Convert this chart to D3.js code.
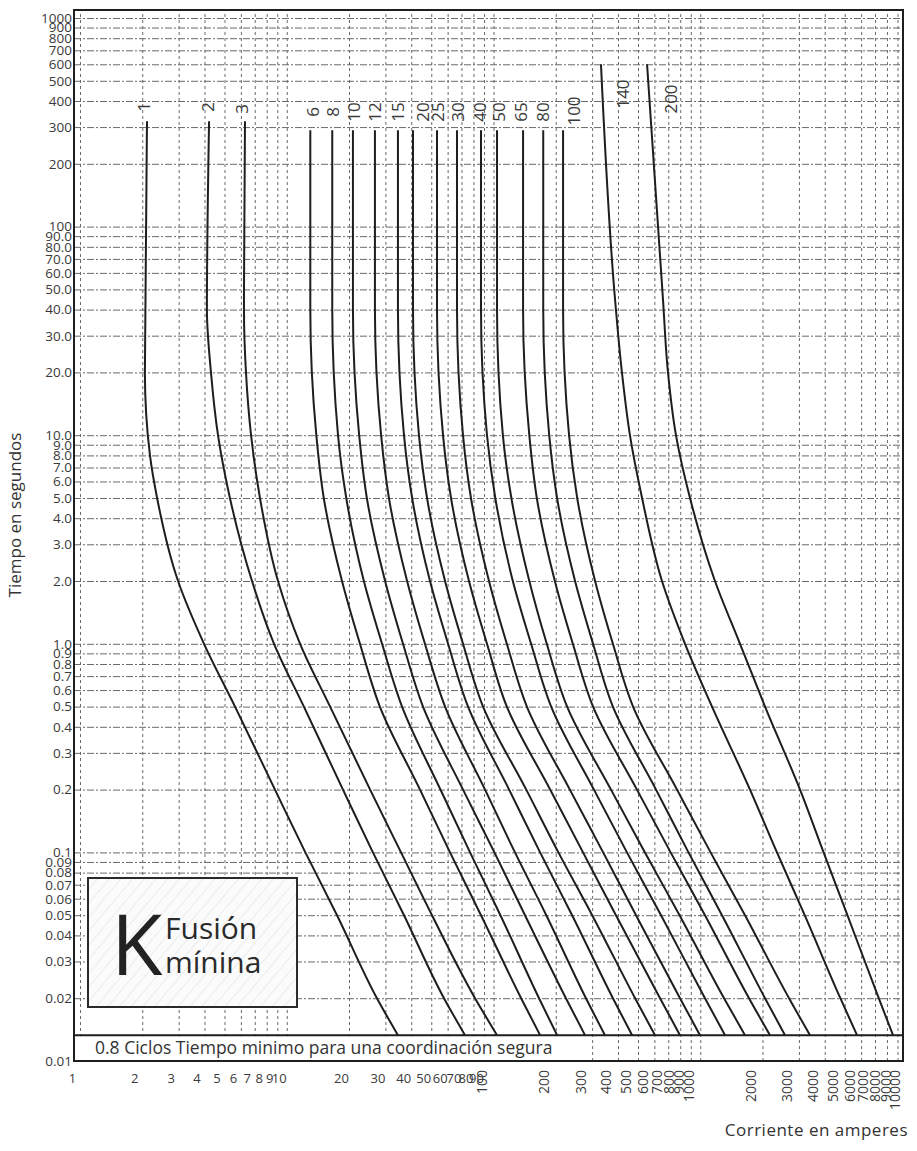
<!DOCTYPE html>
<html>
<head>
<meta charset="utf-8">
<script src="https://cdn.jsdelivr.net/npm/d3@7"></script>
<style>
  body { margin: 0; background: #fff; }
  text { font-family: "Open Sans", "Noto Sans", sans-serif; }
</style>
</head>
<body>
<svg id="chart" width="917" height="1151"></svg>
<script>
// Fuse link ratings (type K) and their minimum melting curves: [current A, time s]
const ratings = ["1", "2", "3", "6", "8", "10", "12", "15", "20", "25", "30", "40", "50", "65", "80", "100", "140", "200"];

const melt1 = [[2.11, 320], [2.06, 20], [2.18, 8], [2.36, 5], [2.98, 2], [3.98, 1], [5.62, 0.5], [8.77, 0.2], [12.3, 0.1], [17.5, 0.05], [27.3, 0.02], [34.5, 0.0133]];
const melt2 = [[4.21, 320], [4.11, 40], [4.30, 20], [4.65, 10], [5.31, 5], [6.79, 2], [8.68, 1], [12.1, 0.5], [18.7, 0.2], [26.1, 0.1], [36.9, 0.05], [57.6, 0.02], [72.8, 0.0133]];
const melt3 = [[6.28, 320], [6.21, 40], [6.35, 20], [6.72, 10], [7.42, 5], [9.07, 2], [11.6, 1], [16.2, 0.5], [25.3, 0.2], [35.7, 0.1], [50.4, 0.05], [81.4, 0.02], [104, 0.0133]];
const melt6 = [[13.0, 290], [13.0, 40], [13.9, 10], [15.1, 5], [18.5, 2], [22.6, 1], [28.2, 0.5], [44.1, 0.2], [61.6, 0.1], [87.0, 0.05], [136, 0.02], [168, 0.0133]];
const melt8 = [[16.6, 290], [16.6, 40], [17.7, 10], [19.4, 5], [23.6, 2], [28.9, 1], [36.1, 0.5], [55.4, 0.2], [77.0, 0.1], [108, 0.05], [166, 0.02], [203, 0.0133]];
const melt10 = [[20.9, 290], [20.9, 40], [22.4, 10], [24.4, 5], [29.9, 2], [36.5, 1], [45.6, 0.5], [71.2, 0.2], [101, 0.1], [142, 0.05], [224, 0.02], [277, 0.0133]];
const melt12 = [[26.7, 290], [26.7, 40], [28.6, 10], [31.2, 5], [38.2, 2], [46.6, 1], [58.3, 0.5], [91.0, 0.2], [127, 0.1], [180, 0.05], [280, 0.02], [346, 0.0133]];
const melt15 = [[34.5, 290], [34.5, 40], [36.9, 10], [40.4, 5], [49.3, 2], [60.3, 1], [75.3, 0.5], [119, 0.2], [168, 0.1], [240, 0.05], [378, 0.02], [468, 0.0133]];
const melt20 = [[40.8, 290], [40.8, 40], [43.6, 10], [47.7, 5], [58.3, 2], [71.2, 1], [89.0, 0.5], [144, 0.2], [206, 0.1], [300, 0.05], [484, 0.02], [604, 0.0133]];
const melt25 = [[53.3, 290], [53.3, 40], [57.0, 10], [62.3, 5], [76.1, 2], [93.0, 1], [116, 0.5], [188, 0.2], [271, 0.1], [391, 0.05], [639, 0.02], [798, 0.0133]];
const melt30 = [[66.6, 290], [66.6, 40], [71.2, 10], [77.8, 5], [95.1, 2], [116, 1], [145, 0.5], [234, 0.2], [339, 0.1], [489, 0.05], [798, 0.02], [997, 0.0133]];
const melt40 = [[87.0, 290], [87.0, 40], [93.0, 10], [102, 5], [124, 2], [152, 1], [190, 0.5], [306, 0.2], [442, 0.1], [646, 0.05], [1054, 0.02], [1317, 0.0133]];
const melt50 = [[104, 290], [104, 40], [111, 10], [122, 5], [149, 2], [181, 1], [227, 0.5], [370, 0.2], [540, 0.1], [794, 0.05], [1303, 0.02], [1646, 0.0133]];
const melt65 = [[139, 290], [139, 40], [149, 10], [162, 5], [198, 2], [242, 1], [303, 0.5], [494, 0.2], [719, 0.1], [1054, 0.05], [1721, 0.02], [2174, 0.0133]];
const melt80 = [[174, 290], [174, 40], [186, 10], [203, 5], [248, 2], [303, 1], [378, 0.5], [611, 0.2], [877, 0.1], [1274, 0.05], [2057, 0.02], [2570, 0.0133]];
const melt100 = [[217, 290], [217, 40], [232, 10], [254, 5], [310, 2], [378, 1], [473, 0.5], [772, 0.2], [1122, 0.1], [1646, 0.05], [2688, 0.02], [3395, 0.0133]];
const melt140 = [[331, 600], [387, 45], [418, 20], [457, 10], [523, 5], [653, 2], [844, 1], [1140, 0.5], [1740, 0.2], [2350, 0.1], [3200, 0.05], [4760, 0.02], [5731, 0.0133]];
const melt200 = [[553, 600], [660, 45], [698, 20], [763, 10], [892, 5], [1178, 2], [1557, 1], [2057, 0.5], [3038, 0.2], [3950, 0.1], [5150, 0.05], [7300, 0.02], [8557, 0.0133]];

const meltCurves = [melt1, melt2, melt3, melt6, melt8, melt10, melt12, melt15, melt20, melt25, melt30, melt40, melt50, melt65, melt80, melt100, melt140, melt200];

// Minimum time for safe coordination: 0.8 cycles at 60 Hz
const coordTime = 0.0133;

// Axis ticks
const xTickValues = [1, 2, 3, 4, 5, 6, 7, 8, 9, 10, 20, 30, 40, 50, 60, 70, 80, 90,
  100, 200, 300, 400, 500, 600, 700, 800, 900, 1000, 2000, 3000, 4000, 5000, 6000, 7000, 8000, 9000, 10000];
const xTickLabels = ["1", "2", "3", "4", "5", "6", "7", "8", "9", "10", "20", "30", "40", "50", "60", "70", "80", "90",
  "100", "200", "300", "400", "500", "600", "700", "800", "900", "1000", "2000", "3000", "4000", "5000", "6000", "7000", "8000", "9000", "10000"];
const yTickValues = [1000, 900, 800, 700, 600, 500, 400, 300, 200, 100, 90, 80, 70, 60, 50, 40, 30, 20,
  10, 9, 8, 7, 6, 5, 4, 3, 2, 1, 0.9, 0.8, 0.7, 0.6, 0.5, 0.4, 0.3, 0.2,
  0.1, 0.09, 0.08, 0.07, 0.06, 0.05, 0.04, 0.03, 0.02, 0.01];
const yTickLabels = ["1000", "900", "800", "700", "600", "500", "400", "300", "200", "100", "90.0", "80.0", "70.0", "60.0", "50.0", "40.0", "30.0", "20.0",
  "10.0", "9.0", "8.0", "7.0", "6.0", "5.0", "4.0", "3.0", "2.0", "1.0", "0.9", "0.8", "0.7", "0.6", "0.5", "0.4", "0.3", "0.2",
  "0.1", "0.09", "0.08", "0.07", "0.06", "0.05", "0.04", "0.03", "0.02", "0.01"];

const xTitle = "Corriente en amperes";
const yTitle = "Tiempo en segundos";
const coordNote = "0.8 Ciclos Tiempo minimo para una coordinación segura";

// ---------------------------------------------------------------------------
const svg = d3.select("#chart");

const x = d3.scaleLog().domain([1, 10000]).range([80, 907]);
const y = d3.scaleLog().domain([0.01, 1000]).range([1061, 18]);

const frame = { left: 74, right: 903, top: 10, bottom: 1061 };
const ink = "#1e1e1e";
const gridInk = "#6a6a6a";

svg.append("rect").attr("width", 917).attr("height", 1151).attr("fill", "#fff");

const defs = svg.append("defs");
defs.append("pattern")
  .attr("id", "hatch").attr("patternUnits", "userSpaceOnUse")
  .attr("width", 9).attr("height", 9)
  .attr("patternTransform", "rotate(40)")
  .append("line").attr("x1", 0).attr("y1", 0).attr("x2", 0).attr("y2", 9)
  .attr("stroke", "#dcdcdc").attr("stroke-width", 1);
defs.append("clipPath").attr("id", "plotClip")
  .append("rect").attr("x", frame.left).attr("y", frame.top)
  .attr("width", frame.right - frame.left).attr("height", frame.bottom - frame.top);

// Grid layers sit inside an untransformed clipped group
const gridLayer = svg.append("g").attr("clip-path", "url(#plotClip)");

// Horizontal grid (dash-dot)
const hGrid = gridLayer.append("g")
  .attr("transform", `translate(${frame.left},0)`)
  .call(d3.axisLeft(y).tickValues(yTickValues).tickFormat("").tickSize(-(frame.right - frame.left)));
hGrid.select(".domain").remove();
hGrid.selectAll(".tick line")
  .attr("stroke", gridInk).attr("stroke-width", 1).attr("stroke-dasharray", "7,2,2,2");

// Vertical grid (dashed)
const vGrid = gridLayer.append("g")
  .attr("transform", `translate(0,${frame.bottom})`)
  .call(d3.axisBottom(x).tickValues(xTickValues).tickFormat("").tickSize(-(frame.bottom - frame.top)));
vGrid.select(".domain").remove();
vGrid.selectAll(".tick line")
  .attr("stroke", gridInk).attr("stroke-width", 1).attr("stroke-dasharray", "3,3");

// Strip below the coordination line
const yCoord = y(coordTime);
svg.append("rect")
  .attr("x", frame.left + 2).attr("y", yCoord + 1)
  .attr("width", 500).attr("height", frame.bottom - yCoord - 2)
  .attr("fill", "#fff");

// Melting curves
const line = d3.line()
  .x(d => x(d[0]))
  .y(d => y(d[1]))
  .curve(d3.curveMonotoneY);

svg.append("g").attr("clip-path", "url(#plotClip)")
  .selectAll("path")
  .data(meltCurves)
  .join("path")
  .attr("d", line)
  .attr("fill", "none")
  .attr("stroke", ink)
  .attr("stroke-width", 2);

// Rating labels written along the top of each curve
const labelDx = [-4, -2, -3, 2, 0, 1, 0, 0, 9, 0, 0, -1, 1, -3, -1, 10, 22, 23];
const labelY = [107, 107, 109, 112, 112, 112, 112, 112, 112, 112, 112, 112, 112, 112, 112, 111, 94, 99];
svg.append("g")
  .selectAll("text")
  .data(ratings)
  .join("text")
  .attr("transform", (d, i) => `translate(${x(meltCurves[i][0][0]) + labelDx[i]},${labelY[i]}) rotate(-90)`)
  .attr("text-anchor", "middle")
  .attr("dominant-baseline", "central")
  .attr("font-family", "DejaVu Sans")
  .attr("font-size", 17)
  .attr("fill", "#3a3a3a")
  .text(d => d);

// Coordination line
svg.append("line")
  .attr("x1", frame.left).attr("x2", frame.right)
  .attr("y1", yCoord).attr("y2", yCoord)
  .attr("stroke", ink).attr("stroke-width", 2);

svg.append("text")
  .attr("x", 95).attr("y", 1054)
  .attr("font-size", 17.5).attr("fill", "#333")
  .text(coordNote);

// Plot frame
svg.append("rect")
  .attr("x", frame.left).attr("y", frame.top)
  .attr("width", frame.right - frame.left).attr("height", frame.bottom - frame.top)
  .attr("fill", "none").attr("stroke", ink).attr("stroke-width", 2);

// Title box
const box = svg.append("g");
box.append("rect").attr("x", 88).attr("y", 878).attr("width", 209).attr("height", 129)
  .attr("fill", "#fbfbfb");
box.append("rect").attr("x", 88).attr("y", 878).attr("width", 209).attr("height", 129)
  .attr("fill", "url(#hatch)").attr("stroke", "#2a2a2a").attr("stroke-width", 2);
box.append("text").attr("x", 111).attr("y", 975)
  .attr("font-size", 84).attr("fill", "#222").text("K");
box.append("text").attr("x", 165).attr("y", 939)
  .attr("font-size", 30).attr("fill", "#2a2a2a").text("Fusión");
box.append("text").attr("x", 165).attr("y", 973)
  .attr("font-size", 30).attr("fill", "#2a2a2a").text("mínina");

// Y axis labels
const yAxisG = svg.append("g")
  .attr("transform", "translate(72,0)")
  .call(d3.axisLeft(y).tickValues(yTickValues).tickFormat((d, i) => yTickLabels[i]).tickSize(0).tickPadding(0));
yAxisG.select(".domain").remove();
yAxisG.selectAll("text")
  .attr("font-family", "\"Open Sans\", sans-serif")
  .attr("font-size", 13.5).attr("fill", "#3a3a3a");

// X axis labels: horizontal below 100, rotated from 100 upward
const lowVals = xTickValues.filter(v => v < 100);
const highVals = xTickValues.filter(v => v >= 100);
const xLow = svg.append("g")
  .attr("transform", "translate(-8,1074)")
  .call(d3.axisBottom(x).tickValues(lowVals)
    .tickFormat(v => xTickLabels[xTickValues.indexOf(v)]).tickSize(0).tickPadding(0));
xLow.select(".domain").remove();
xLow.selectAll("text")
  .attr("font-family", "\"Open Sans\", sans-serif")
  .attr("font-size", 13).attr("fill", "#3a3a3a");

const xHigh = svg.append("g")
  .attr("transform", "translate(-12,1070)")
  .call(d3.axisBottom(x).tickValues(highVals)
    .tickFormat(v => xTickLabels[xTickValues.indexOf(v)]).tickSize(0).tickPadding(0));
xHigh.select(".domain").remove();
xHigh.selectAll("text")
  .attr("font-family", "\"Open Sans\", sans-serif")
  .attr("font-size", 14).attr("fill", "#3a3a3a")
  .attr("transform", "rotate(-90)")
  .attr("text-anchor", "end")
  .attr("x", 0).attr("y", 0).attr("dy", "0.35em");

// Axis titles
svg.append("text")
  .attr("transform", "translate(21,515) rotate(-90)")
  .attr("text-anchor", "middle")
  .attr("font-size", 17).attr("fill", "#333")
  .text(yTitle);

svg.append("text")
  .attr("x", 908).attr("y", 1136)
  .attr("text-anchor", "end")
  .attr("font-size", 17).attr("letter-spacing", 0.5).attr("fill", "#333")
  .text(xTitle);
</script>
</body>
</html>
